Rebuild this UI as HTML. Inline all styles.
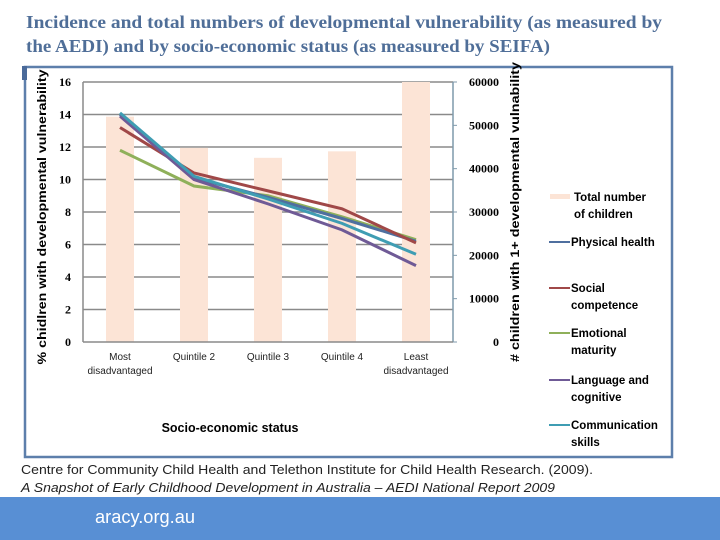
<!DOCTYPE html>
<html><head><meta charset="utf-8"><style>
body{margin:0;width:720px;height:540px;overflow:hidden;background:#fff;font-family:"Liberation Sans",sans-serif}
svg{position:absolute;left:0;top:0}
</style></head><body>
<svg id="c" width="720" height="540">
<text x="26" y="28" font-family="Liberation Serif,serif" font-weight="bold" font-size="17.5" fill="#4f6e98" textLength="636" lengthAdjust="spacingAndGlyphs">Incidence and total numbers of developmental vulnerability (as measured by</text>
<text x="26" y="52" font-family="Liberation Serif,serif" font-weight="bold" font-size="17.5" fill="#4f6e98" textLength="524" lengthAdjust="spacingAndGlyphs">the AEDI) and by socio-economic status (as measured by SEIFA)</text>
<rect x="25" y="67" width="647" height="390" fill="none" stroke="#5d7fab" stroke-width="2.5"/>
<rect x="22" y="66" width="5" height="14" fill="#4a6a9a"/>
<g id="plot"></g>
<text x="230" y="432" text-anchor="middle" font-size="12.5" font-weight="bold" fill="#000">Socio-economic status</text>
<text transform="translate(46,217) rotate(-90)" text-anchor="middle" font-size="12" font-weight="bold" textLength="295" lengthAdjust="spacingAndGlyphs">% chidlren with developmental vulnerability</text>
<text transform="translate(519,212) rotate(-90)" text-anchor="middle" font-size="12" font-weight="bold" textLength="300" lengthAdjust="spacingAndGlyphs"># children with 1+ developmental vulnability</text>
<g id="legend" font-size="11.5" font-weight="bold"></g>
<text x="21" y="474" font-size="13" fill="#222" textLength="572" lengthAdjust="spacingAndGlyphs">Centre for Community Child Health and Telethon Institute for Child Health Research. (2009).</text>
<text x="21" y="492" font-size="13" font-style="italic" fill="#222" textLength="534" lengthAdjust="spacingAndGlyphs">A Snapshot of Early Childhood Development in Australia – AEDI National Report  2009</text>
<rect x="0" y="497" width="720" height="43" fill="#588fd4"/>
<text x="95" y="523" font-size="18" fill="#fff" textLength="100" lengthAdjust="spacingAndGlyphs">aracy.org.au</text>
</svg>
<script>
const categories=["Most|disadvantaged","Quintile 2","Quintile 3","Quintile 4","Least|disadvantaged"];
const totalChildren=[52000,44800,42500,44000,60000];
const physical=[14.0,10.1,8.9,7.6,6.2];
const social=[13.2,10.4,9.3,8.2,6.1];
const emotional=[11.8,9.6,9.0,7.7,6.3];
const language=[13.9,10.0,8.5,6.9,4.7];
const communication=[14.1,10.2,8.8,7.3,5.4];
const leftTicks=[0,2,4,6,8,10,12,14,16];
const rightTicks=[0,10000,20000,30000,40000,50000,60000];
const NS="http://www.w3.org/2000/svg";
const X0=83,X1=453,Y0=342,Y1=82;
const band=(X1-X0)/categories.length;
const xc=i=>X0+band*(i+0.5);
const yl=v=>Y0-(v/16)*(Y0-Y1);
const yr=v=>Y0-(v/60000)*(Y0-Y1);
const g=document.getElementById('plot');
function mk(t,a,p){const e=document.createElementNS(NS,t);for(const k in a)e.setAttribute(k,a[k]);(p||g).appendChild(e);return e;}
leftTicks.forEach(v=>{
 if(v>0){const l=mk('line',{x1:X0,x2:X1,y1:yl(v),y2:yl(v),stroke:'#8a8a8a','stroke-width':1.5});
 
 }
 const t=mk('text',{x:X0-12,y:yl(v)+4,'text-anchor':'end','font-size':12,'font-family':'Liberation Serif,serif','font-weight':'bold'});t.textContent=v;
 
 
});
rightTicks.forEach(v=>{
 const t=mk('text',{x:X1+46,y:yr(v)+4,'text-anchor':'end','font-size':12,'font-family':'Liberation Serif,serif','font-weight':'bold'});t.textContent=v;
 
 
 mk('line',{x1:X1,x2:X1+4,y1:yr(v),y2:yr(v),stroke:'#7f9aab'});
});
totalChildren.forEach((v,i)=>{
 const r=mk('rect',{x:xc(i)-14,y:yr(v),width:28,height:Y0-yr(v),fill:'#fce4d6'});
 
 
});
mk('line',{x1:X0,x2:X0,y1:Y1,y2:Y0,stroke:'#8a8a8a','stroke-width':1.5});
mk('line',{x1:X1,x2:X1,y1:Y1,y2:Y0,stroke:'#7f9aab','stroke-width':1.5});
mk('line',{x1:X0,x2:X1,y1:Y0,y2:Y0,stroke:'#8a8a8a','stroke-width':1.5});
categories.forEach((c,i)=>{
 const parts=c.split('|');
 parts.forEach((p,j)=>{const t=mk('text',{x:xc(i),y:360+j*14,'text-anchor':'middle','font-size':10,fill:'#222'});t.textContent=p;
 
 });
});
const series=[["Physical health",physical,'#4f6f9f'],["Social competence",social,'#a04848'],["Emotional maturity",emotional,'#8fb05a'],["Language and cognitive",language,'#6f5a96'],["Communication skills",communication,'#3f9db3']];
const drawOrder=[2,0,1,3,4];
drawOrder.forEach(k=>{const s=series[k];
 const p=mk('polyline',{points:s[1].map((v,i)=>xc(i)+','+yl(v)).join(' '),fill:'none',stroke:s[2],'stroke-width':3});
 
 
});
const lg=document.getElementById('legend');
const e0=mk('rect',{x:550,y:194,width:20,height:5,fill:'#fce4d6'},lg);


[["Total number",201],["of children",218]].forEach(a=>{const t=mk('text',{x:574,y:a[1]},lg);t.textContent=a[0];
 
 });
const ly=[242,288,333,380,425];
series.forEach((s,k)=>{
 const l=mk('line',{x1:549,x2:570,y1:ly[k],y2:ly[k],stroke:s[2],'stroke-width':2},lg);
 
 
 const words=s[0]=="Physical health"?["Physical health"]:s[0]=="Social competence"?["Social","competence"]:s[0]=="Emotional maturity"?["Emotional","maturity"]:s[0]=="Language and cognitive"?["Language and","cognitive"]:["Communication","skills"];
 words.forEach((w,j)=>{const t=mk('text',{x:571,y:ly[k]+4+j*17},lg);t.textContent=w;
 
 });
});
</script>
</body></html>
